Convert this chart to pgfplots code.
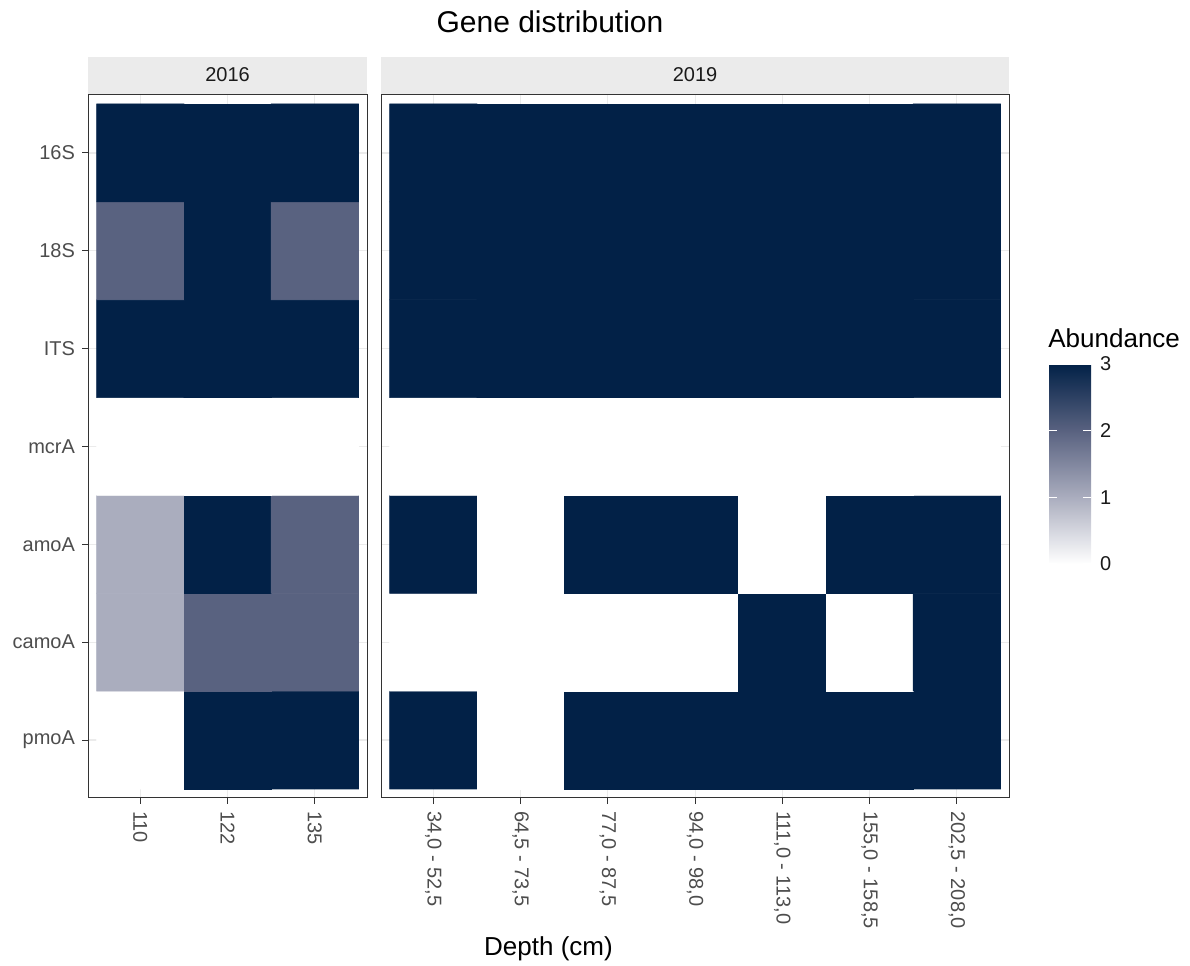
\documentclass[border=0pt]{standalone}
\usepackage{pgfplots}
\usepackage{pgfplotstable}
\pgfplotsset{compat=1.18}
\usepackage{fontspec}
\setmainfont{Liberation Sans}

\definecolor{grey30}{HTML}{4D4D4D}
\definecolor{grey20}{HTML}{333333}
\definecolor{grey10}{HTML}{1A1A1A}
\definecolor{gridgrey}{HTML}{EBEBEB}
\definecolor{stripgrey}{HTML}{EBEBEB}

% gene abundance per sample (x = depth index, y = gene index, pmoA = 0 ... 16S = 6)
\pgfplotstableread{
x y v
0 0 0
1 0 3
2 0 3
0 1 1
1 1 2
2 1 2
0 2 1
1 2 3
2 2 2
0 3 0
1 3 0
2 3 0
0 4 3
1 4 3
2 4 3
0 5 2
1 5 3
2 5 2
0 6 3
1 6 3
2 6 3
}\tabA

\pgfplotstableread{
x y v
0 0 3
1 0 0
2 0 3
3 0 3
4 0 3
5 0 3
6 0 3
0 1 0
1 1 0
2 1 0
3 1 0
4 1 3
5 1 0
6 1 3
0 2 3
1 2 0
2 2 3
3 2 3
4 2 0
5 2 3
6 2 3
0 3 0
1 3 0
2 3 0
3 3 0
4 3 0
5 3 0
6 3 0
0 4 3
1 4 3
2 4 3
3 4 3
4 4 3
5 4 3
6 4 3
0 5 3
1 5 3
2 5 3
3 5 3
4 5 3
5 5 3
6 5 3
0 6 3
1 6 3
2 6 3
3 6 3
4 6 3
5 6 3
6 6 3
}\tabB

\pgfplotsset{
  colormap={abund}{rgb255(0pt)=(255,255,255); rgb255(2pt)=(170,173,190);
    rgb255(3pt)=(129,135,159); rgb255(4pt)=(89,98,128); rgb255(6pt)=(2,33,71)},
  panel/.style={
    scale only axis, height=351.5pt, anchor=south west,
    ymin=-0.592, ymax=6.592, xmin=-0.6,
    ytick={0,...,6},
    grid=major, major grid style={gridgrey, line width=0.6pt},
    axis line style={draw=none},
    tick align=outside, tick pos=left, major tick length=3pt,
    tick style={grey20, line width=0.5pt},
    ticklabel style={font=\fontsize{10pt}{12pt}\selectfont, text=grey30},
    xticklabel style={rotate=-90, anchor=west},
    colormap name=abund, point meta min=0, point meta max=3,
  },
  tiles/.style={matrix plot*, shader=faceted, faceted color=mapped color,
    line width=0.3pt, point meta=explicit},
}

\begin{document}
\begin{tikzpicture}
\path[use as bounding box] (0pt,0pt) rectangle (595pt,482.5pt);

% 2016 panel
\begin{axis}[panel, name=p16, at={(44pt,83.5pt)}, width=139.6pt,
  xmax=2.6, xtick={0,1,2}, xticklabels={110,122,135},
  yticklabels={pmoA,camoA,amoA,mcrA,ITS,18S,16S}]
\addplot[tiles, mesh/cols=3] table[x=x, y=y, meta=v] {\tabA};
\end{axis}

% 2019 panel
\begin{axis}[panel, name=p19, at={(190.5pt,83.5pt)}, width=314.1pt,
  xmax=6.6, xtick={0,...,6},
  xticklabels={{34,0 - 52,5},{64,5 - 73,5},{77,0 - 87,5},{94,0 - 98,0},
    {111,0 - 113,0},{155,0 - 158,5},{202,5 - 208,0}},
  yticklabels={}, ytick style={draw=none}]
\addplot[tiles, mesh/cols=7] table[x=x, y=y, meta=v] {\tabB};
\end{axis}

% facet strips and panel borders
\foreach \p/\lab in {p16/2016, p19/2019}{
  \fill[stripgrey] (\p.north west) rectangle ([yshift=19pt]\p.north east);
  \path (\p.north west) -- (\p.north east)
    node[midway, yshift=6.5pt, anchor=base, text=grey10,
         font=\fontsize{10pt}{12pt}\selectfont] {\lab};
  \draw[grey20, line width=0.5pt] (\p.south west) rectangle (\p.north east);
}

% titles
\node[anchor=base, font=\fontsize{15pt}{18pt}\selectfont] at (275pt,466pt) {Gene distribution};
\node[anchor=base, font=\fontsize{13pt}{15pt}\selectfont] at (274.25pt,4.75pt) {Depth (cm)};
\node[anchor=base west, inner sep=0pt, font=\fontsize{13pt}{15pt}\selectfont] at (524pt,308.5pt) {Abundance};

% colour scale
\begin{axis}[at={(0pt,0pt)}, anchor=south west, hide axis, scale only axis,
  width=1pt, height=1pt, xmin=0, xmax=1, ymin=0, ymax=1,
  colormap name=abund, point meta min=0, point meta max=3,
  colorbar, colorbar/width=21pt, colorbar shift/.style={},
  colorbar style={
    at={(524.5pt,200.5pt)}, anchor=south west, xshift=0pt, yshift=0pt,
    scale only axis, width=21pt, height=100pt,
    axis on top, axis line style={draw=none},
    ytick={0,1,2,3}, tick pos=both, yticklabel pos=right,
    tick align=inside, major tick length=4pt,
    tick style={white, line width=0.6pt},
    major tick style={white, line width=0.6pt},
    /pgf/number format/assume math mode=true,
    yticklabel style={font=\fontsize{10pt}{12pt}\selectfont, text=grey10, xshift=1pt},
  }]
\addplot[draw=none] coordinates {(0,0)};
\end{axis}
\end{tikzpicture}
\end{document}
